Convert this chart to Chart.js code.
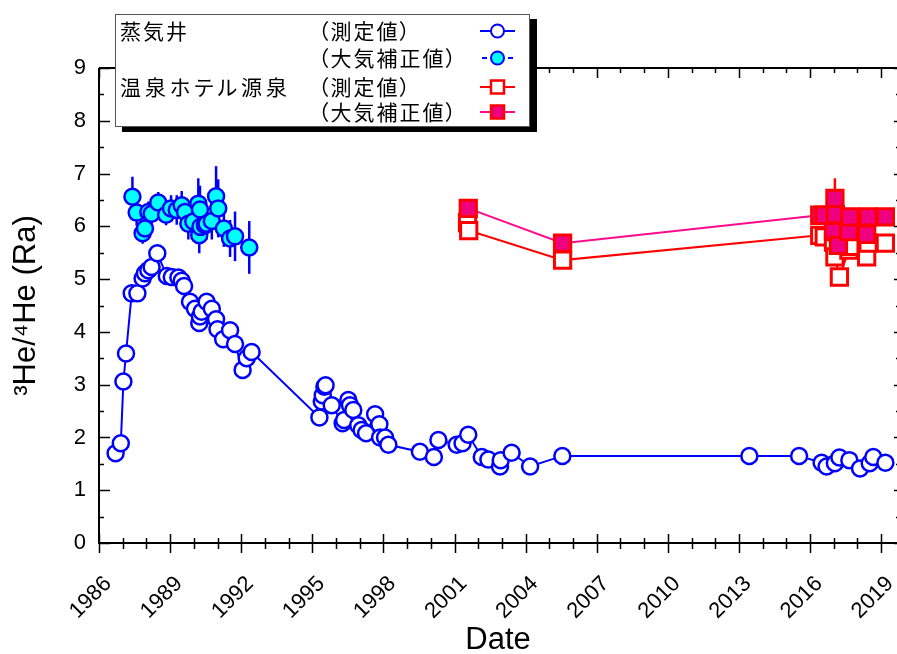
<!DOCTYPE html>
<html>
<head>
<meta charset="utf-8">
<script src="https://cdn.jsdelivr.net/npm/chart.js@4"></script>
<style>
html, body { margin: 0; padding: 0; background: #fff; overflow: hidden; }
#wrap { position: relative; width: 897px; height: 654px; }
#chart { position: absolute; left: 0; top: 0; }
#legend {
    position: absolute; left: 115px; top: 14px; width: 413px; height: 111px;
    background: #fff; border: 1px solid #555; box-shadow: 7px 5px 0 #000;
    font-family: "Noto Sans CJK JP", sans-serif; font-size: 21px; color: #000;
    font-feature-settings: "palt";
}
.row { position: absolute; height: 26px; line-height: 26px; white-space: nowrap; }
.mk { position: absolute; left: 362px; width: 40px; height: 20px; }
</style>
</head>
<body>
<div id="wrap">
    <canvas id="chart" width="897" height="654"></canvas>
    <div id="legend">
        <div class="row" style="left:4px;top:2px;letter-spacing:2px">蒸気井</div>
        <div class="row" style="left:4px;top:58px;letter-spacing:4px">温泉ホテル源泉</div>
        <div class="row" style="left:202px;top:2px;letter-spacing:2px">（測定値）</div>
        <div class="row" style="left:202px;top:29px;letter-spacing:2px">（大気補正値）</div>
        <div class="row" style="left:202px;top:58px;letter-spacing:2px">（測定値）</div>
        <div class="row" style="left:202px;top:83px;letter-spacing:2px">（大気補正値）</div>
        <svg class="mk" style="top:6px" viewBox="0 0 40 20">
            <line x1="2" y1="10" x2="37" y2="10" stroke="#0000ff" stroke-width="2"/>
            <circle cx="19.5" cy="10" r="6.5" fill="#fff" stroke="#0000ff" stroke-width="2"/>
        </svg>
        <svg class="mk" style="top:33px" viewBox="0 0 40 20">
            <line x1="4" y1="10" x2="9" y2="10" stroke="#0000ff" stroke-width="2"/>
            <line x1="30" y1="10" x2="35" y2="10" stroke="#0000ff" stroke-width="2"/>
            <circle cx="19.5" cy="10" r="6.5" fill="#00ffff" stroke="#0000ff" stroke-width="2"/>
        </svg>
        <svg class="mk" style="top:62px" viewBox="0 0 40 20">
            <line x1="2" y1="10" x2="37" y2="10" stroke="#ff0000" stroke-width="2"/>
            <rect x="13" y="3.5" width="13" height="13" fill="#fff" stroke="#ff0000" stroke-width="2.5"/>
        </svg>
        <svg class="mk" style="top:87px" viewBox="0 0 40 20">
            <line x1="2" y1="10" x2="37" y2="10" stroke="#ff0a8c" stroke-width="2"/>
            <rect x="13" y="3.5" width="13" height="13" fill="#ee0080" stroke="#ff0000" stroke-width="2.5"/>
        </svg>
    </div>
</div>
<script>
// 蒸気井 (測定値)
const steamYears = [1986.70, 1986.92, 1987.03, 1987.14, 1987.38, 1987.62, 1987.84, 1987.94, 1988.08, 1988.22,
    1988.46, 1988.86, 1989.07, 1989.35, 1989.49, 1989.59, 1989.84, 1990.05, 1990.23, 1990.26,
    1990.33, 1990.54, 1990.76, 1990.94, 1991.00, 1991.24, 1991.53, 1991.74, 1992.06, 1992.23,
    1992.44, 1995.30, 1995.40, 1995.44, 1995.51, 1995.56, 1995.82, 1996.28, 1996.34, 1996.52,
    1996.59, 1996.73, 1996.94, 1997.08, 1997.27, 1997.65, 1997.83, 1997.86, 1998.07, 1998.21,
    1999.54, 2000.13, 2000.32, 2001.09, 2001.34, 2001.58, 2002.15, 2002.43, 2002.92, 2002.95,
    2003.41, 2004.19, 2005.55, 2013.44, 2015.54, 2016.49, 2016.70, 2017.05, 2017.24, 2017.66,
    2018.11, 2018.52, 2018.67, 2019.18];
const steamRatio = [1.70, 1.89, 3.06, 3.59, 4.73, 4.73, 5.01, 5.11, 5.17, 5.23,
    5.49, 5.06, 5.04, 5.03, 4.97, 4.87, 4.57, 4.44, 4.17, 4.29,
    4.38, 4.57, 4.44, 4.24, 4.05, 3.86, 4.03, 3.77, 3.28, 3.50,
    3.62, 2.38, 2.68, 2.80, 2.96, 2.99, 2.61, 2.27, 2.33, 2.71,
    2.61, 2.52, 2.23, 2.14, 2.08, 2.44, 2.25, 2.00, 2.00, 1.86,
    1.73, 1.63, 1.95, 1.86, 1.89, 2.05, 1.63, 1.58, 1.45, 1.57,
    1.71, 1.45, 1.65, 1.65, 1.65, 1.52, 1.45, 1.51, 1.62, 1.57,
    1.41, 1.51, 1.63, 1.52];

// 蒸気井 (大気補正値)
const steamCorrYears = [1987.41, 1987.59, 1987.84, 1987.94, 1988.08, 1988.22, 1988.50, 1988.83, 1989.04, 1989.28,
    1989.49, 1989.63, 1989.77, 1989.98, 1990.19, 1990.26, 1990.23, 1990.28, 1990.47, 1990.54,
    1990.76, 1990.94, 1991.03, 1991.27, 1991.53, 1991.74, 1992.34];
const steamCorrRatio = [6.56, 6.26, 5.87, 5.96, 6.27, 6.24, 6.45, 6.22, 6.34, 6.31,
    6.40, 6.27, 6.05, 6.09, 6.43, 6.32, 5.83, 5.99, 6.02, 6.05,
    6.10, 6.57, 6.34, 5.96, 5.77, 5.81, 5.60];
const steamCorrErr = [0.38, 0.25, 0.20, 0.20, 0.20, 0.20, 0.20, 0.20, 0.25, 0.28,
    0.27, 0.25, 0.30, 0.30, 0.48, 0.45, 0.34, 0.30, 0.30, 0.30,
    0.35, 0.57, 0.55, 0.35, 0.35, 0.47, 0.50];

// 温泉ホテル源泉 (測定値)
const hotelYears = [2001.55, 2001.60, 2005.56, 2016.41, 2016.60, 2016.99, 2017.05, 2017.24, 2017.64, 2017.68,
    2018.39, 2018.45, 2019.18];
const hotelRatio = [6.07, 5.92, 5.36, 5.83, 5.80, 5.70, 5.42, 5.04, 5.55, 5.62,
    5.42, 5.68, 5.68];

// 温泉ホテル源泉 (大気補正値)
const hotelCorrYears = [2001.58, 2005.56, 2016.41, 2016.60, 2016.99, 2017.05, 2017.07, 2017.20, 2017.64, 2017.68,
    2018.39, 2018.45, 2019.18];
const hotelCorrRatio = [6.34, 5.68, 6.21, 6.21, 5.90, 6.53, 6.22, 5.64, 5.90, 6.18,
    5.85, 6.18, 6.18];
const hotelCorrErr = [0.05, 0.05, 0.08, 0.08, 0.08, 0.38, 0.08, 0.08, 0.08, 0.08,
    0.08, 0.08, 0.08];

const xTickYears = [1986, 1989, 1992, 1995, 1998, 2001, 2004, 2007, 2010, 2013, 2016, 2019];
const yTickValues = [0, 1, 2, 3, 4, 5, 6, 7, 8, 9];

function pts(xs, ys) {
    return xs.map((x, i) => ({ x: x, y: ys[i] }));
}

// error bars, drawn just before the dataset so the markers sit on top
const errorBars = {
    id: 'errorBars',
    beforeDatasetDraw(chart, args) {
        const ds = chart.data.datasets[args.index];
        if (!ds.errors) return;
        const xs = chart.scales.x, ys = chart.scales.y, a = chart.chartArea;
        const ctx = chart.ctx;
        ctx.save();
        ctx.beginPath();
        ctx.rect(a.left, a.top, a.right - a.left, a.bottom - a.top);
        ctx.clip();
        ctx.strokeStyle = ds.errorColor;
        ctx.lineWidth = 2.5;
        ds.data.forEach((p, i) => {
            const x = xs.getPixelForValue(p.x);
            ctx.beginPath();
            ctx.moveTo(x, ys.getPixelForValue(p.y + ds.errors[i]));
            ctx.lineTo(x, ys.getPixelForValue(p.y - ds.errors[i]));
            ctx.stroke();
        });
        ctx.restore();
    }
};

// box frame with tick marks on all four sides
const frame = {
    id: 'frame',
    afterDatasetsDraw(chart) {
        const ctx = chart.ctx, a = chart.chartArea;
        const xs = chart.scales.x, ys = chart.scales.y;
        ctx.save();
        ctx.strokeStyle = '#000';
        ctx.lineWidth = 2;
        ctx.beginPath();
        ctx.moveTo(a.left, a.top);
        ctx.lineTo(a.right + 2, a.top);
        ctx.moveTo(a.left, a.top);
        ctx.lineTo(a.left, a.bottom);
        ctx.lineTo(a.right + 2, a.bottom);
        ctx.stroke();
        ctx.lineWidth = 1.5;
        ctx.beginPath();
        for (let yr = 1986; yr <= 2019; yr++) {
            const x = Math.round(xs.getPixelForValue(yr)) + 0.5;
            const major = xTickYears.includes(yr);
            ctx.moveTo(x, a.bottom - (major ? 9 : 5));
            ctx.lineTo(x, a.bottom + (major ? 10 : 6));
            ctx.moveTo(x, a.top);
            ctx.lineTo(x, a.top + (major ? 10 : 5));
        }
        for (let v = 0; v <= 9; v += 0.5) {
            const y = Math.round(ys.getPixelForValue(v)) + 0.5;
            const major = Number.isInteger(v);
            ctx.moveTo(a.left, y);
            ctx.lineTo(a.left + (major ? 11 : 5), y);
            ctx.moveTo(a.right + 1, y);
            ctx.lineTo(a.right + 1 - (major ? 4 : 2), y);
        }
        ctx.stroke();
        ctx.restore();
    }
};

const ctx = document.getElementById('chart').getContext('2d');

new Chart(ctx, {
    type: 'line',
    data: {
        datasets: [
            {
                label: '温泉ホテル源泉（大気補正値）',
                data: pts(hotelCorrYears, hotelCorrRatio),
                errors: hotelCorrErr,
                errorColor: '#ff0000',
                borderColor: '#ff0a8c',
                borderWidth: 2,
                pointStyle: 'rect',
                pointRadius: 11.5,
                pointBorderWidth: 3,
                pointBorderColor: '#ff0000',
                pointBackgroundColor: '#ee0080',
                order: 0
            },
            {
                label: '温泉ホテル源泉（測定値）',
                data: pts(hotelYears, hotelRatio),
                borderColor: '#ff0000',
                borderWidth: 2,
                pointStyle: 'rect',
                pointRadius: 11.5,
                pointBorderWidth: 3,
                pointBorderColor: '#ff0000',
                pointBackgroundColor: '#ffffff',
                order: 1
            },
            {
                label: '蒸気井（大気補正値）',
                data: pts(steamCorrYears, steamCorrRatio),
                errors: steamCorrErr,
                errorColor: '#0000ff',
                showLine: false,
                pointStyle: 'circle',
                pointRadius: 8,
                pointBorderWidth: 2.5,
                pointBorderColor: '#0000ff',
                pointBackgroundColor: '#00ffff',
                order: 2
            },
            {
                label: '蒸気井（測定値）',
                data: pts(steamYears, steamRatio),
                borderColor: '#0000ff',
                borderWidth: 2,
                pointStyle: 'circle',
                pointRadius: 8,
                pointBorderWidth: 2.5,
                pointBorderColor: '#0000ff',
                pointBackgroundColor: '#ffffff',
                order: 3
            }
        ]
    },
    plugins: [errorBars, frame],
    options: {
        responsive: false,
        animation: false,
        layout: { autoPadding: false, padding: { top: 68, right: 0, left: 0, bottom: 0 } },
        plugins: {
            legend: { display: false },
            tooltip: { enabled: false }
        },
        scales: {
            x: {
                type: 'linear',
                min: 1986,
                max: 2019.67,
                grid: { display: false, drawTicks: false },
                border: { display: false },
                afterBuildTicks: s => { s.ticks = xTickYears.map(v => ({ value: v })); },
                afterFit: s => { s.height = 111; s.paddingLeft = 0; s.paddingRight = 0; },
                ticks: {
                    autoSkip: false,
                    minRotation: 45,
                    maxRotation: 45,
                    padding: 28,
                    labelOffset: 9,
                    color: '#000',
                    font: { family: 'Liberation Sans', size: 22 },
                    callback: v => String(v)
                },
                title: {
                    display: true,
                    text: 'Date',
                    color: '#000',
                    font: { family: 'Liberation Sans', size: 31, lineHeight: 0.85 },
                    padding: { top: 0, bottom: 0 }
                }
            },
            y: {
                min: 0,
                max: 9,
                grid: { display: false, drawTicks: false },
                border: { display: false },
                afterBuildTicks: s => { s.ticks = yTickValues.map(v => ({ value: v })); },
                afterFit: s => { s.width = 99; },
                ticks: {
                    padding: 13,
                    color: '#000',
                    font: { family: 'Liberation Sans', size: 22 }
                },
                title: {
                    display: true,
                    text: '³He/⁴He (Ra)',
                    color: '#000',
                    font: { family: 'Liberation Sans', size: 31 },
                    padding: { top: 8, bottom: 0 }
                }
            }
        }
    }
});
</script>
</body>
</html>
